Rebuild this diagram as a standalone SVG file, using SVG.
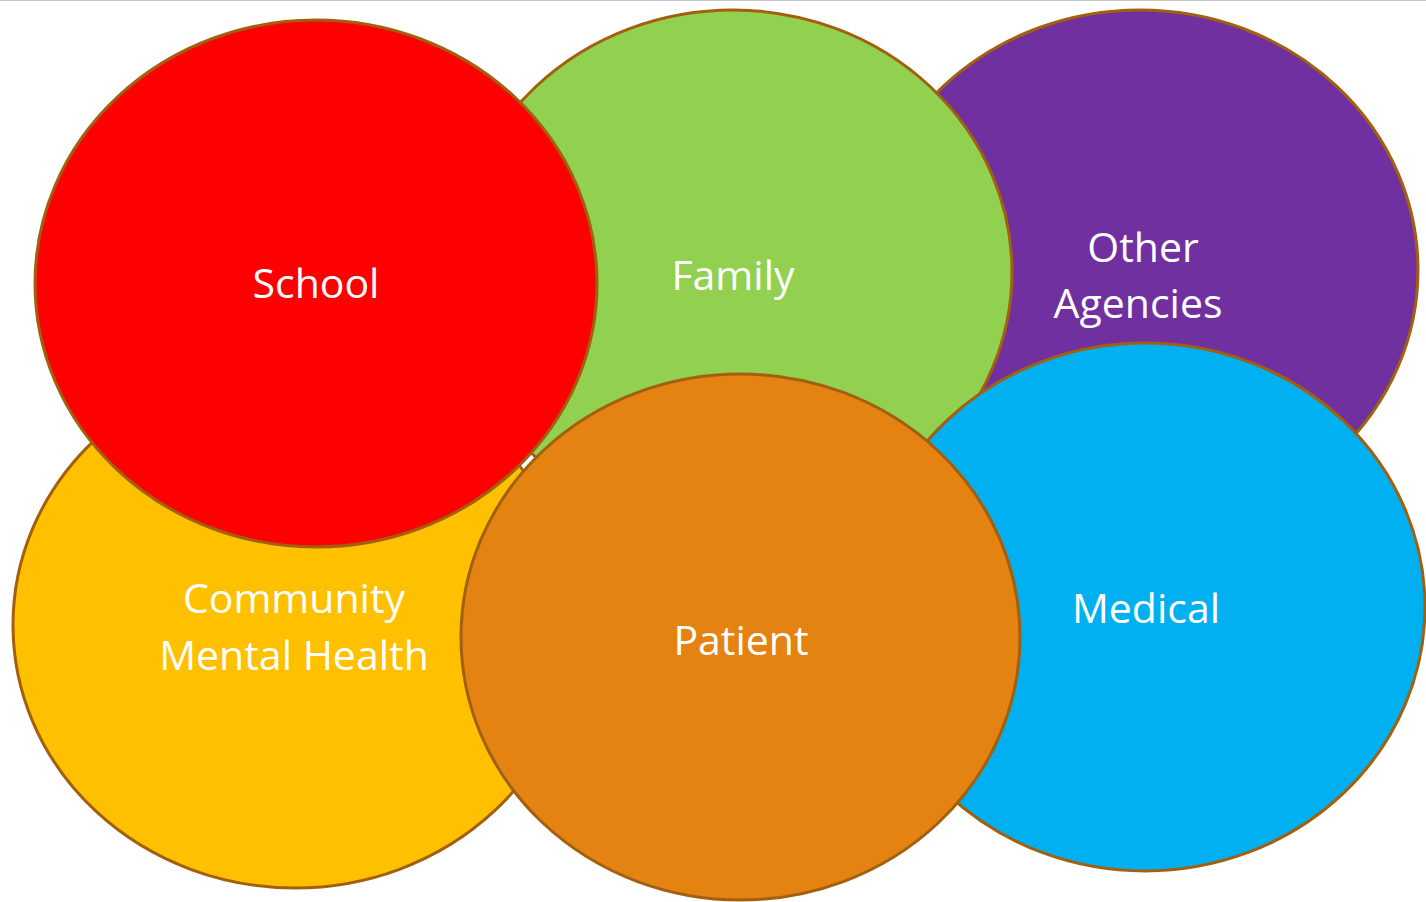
<svg xmlns="http://www.w3.org/2000/svg" width="1426" height="902" viewBox="0 0 1426 902">
<style>
.c{stroke:#A2600F;stroke-width:3}
.t{font-family:"Open Sans","Noto Sans","Liberation Sans",sans-serif;font-size:41px;fill:#ffffff;text-anchor:middle}
</style>
<rect x="0" y="0" width="1426" height="902" fill="#ffffff"/>
<line x1="0" y1="0.5" x2="1426" y2="0.5" stroke="#c8c8c8" stroke-width="1"/>
<g id="other-agencies">
<ellipse class="c" cx="1140" cy="270" rx="278" ry="260" fill="#7030A0"/>
<text class="t" x="1143" y="262">Other</text>
<text class="t" x="1138" y="318">Agencies</text>
</g>
<g id="family">
<ellipse class="c" cx="733" cy="272" rx="279" ry="262" fill="#92D050"/>
<text class="t" x="733" y="290">Family</text>
</g>
<g id="medical">
<ellipse class="c" cx="1145" cy="607" rx="280" ry="264" fill="#00B0F0"/>
<text class="t" x="1146" y="623">Medical</text>
</g>
<g id="community-mental-health">
<ellipse class="c" cx="295" cy="625" rx="282" ry="263" fill="#FFC000"/>
<text class="t" x="294" y="613">Community</text>
<text class="t" x="294" y="670">Mental Health</text>
</g>
<g id="school">
<ellipse class="c" cx="316" cy="283.5" rx="281" ry="263.5" fill="#FF0000"/>
<text class="t" x="316" y="298">School</text>
</g>
<g id="patient">
<ellipse class="c" cx="740.5" cy="637" rx="279.5" ry="263" fill="#E48312"/>
<text class="t" x="741" y="655">Patient</text>
</g>
<g id="connectors"></g>
</svg>
